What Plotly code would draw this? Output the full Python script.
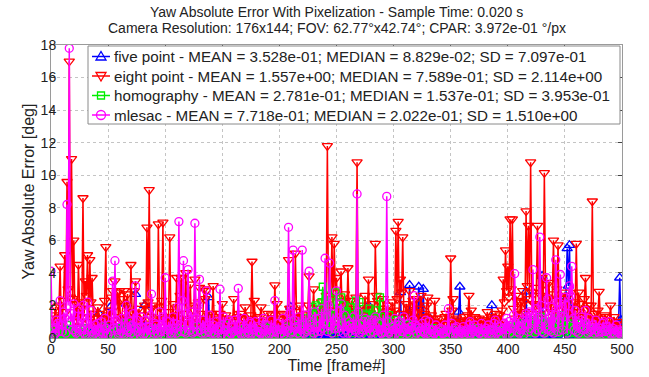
import plotly.graph_objects as go

frames = list(range(0, 501))

five_point = [
    0.1,0.04, 0.05,0.12, 0.2,0.06, 0.08,0.15, 0.1,0.05, 0.06,0.3, 0.3,0.08, 0.1,0.2, 0.5,0.1, 0.08,0.06,
    0.06,0.12, 0.1,0.05, 0.08,0.2, 0.05,0.07, 0.2,0.1, 0.07,0.04, 0.1,0.15, 0.06,0.3, 0.4,0.08, 0.08,0.1,
    0.1,0.6, 1.5,0.2, 0.08,0.1, 0.2,0.5, 0.06,0.08, 0.1,0.7, 1.9,0.3, 0.05,0.1, 0.3,0.06, 0.1,0.9,
    0.08,0.4, 0.1,0.2, 0.4,1.1, 2.1,0.5, 0.06,0.1, 0.2,0.8, 0.1,0.4, 2.7,1.0, 0.08,0.2, 0.3,0.1,
    0.1,0.6, 2.0,0.4, 0.06,0.1, 0.5,0.2, 0.08,0.05, 0.1,0.3, 0.05,0.08, 0.2,0.1, 0.07,0.05, 0.1,0.2,
    0.06,0.1, 0.1,0.05, 0.3,0.5, 1.2,0.2, 0.08,0.1, 0.05,0.06, 0.1,0.2, 0.4,0.08, 0.06,0.1, 0.1,0.05,
    0.07,0.1, 0.2,0.06, 0.05,0.3, 0.1,0.08, 0.8,0.2, 0.06,0.1, 0.1,0.05, 0.3,0.7, 0.08,1.2, 2.5,0.3,
    0.1,0.06, 0.06,0.2, 0.4,0.1, 0.08,0.05, 0.1,0.3, 0.05,0.08, 0.9,0.2, 0.07,0.1, 0.1,0.05, 0.06,0.1,
    0.1,0.05, 0.3,0.1, 0.06,0.08, 0.08,0.2, 0.1,0.06, 0.05,0.1, 0.6,0.1, 0.07,0.05, 0.1,0.3, 0.08,0.1,
    0.06,0.1, 0.1,0.05, 0.2,0.08, 0.05,0.1, 0.08,0.4, 0.1,0.06, 0.5,0.1, 0.06,0.08, 0.1,0.2, 0.07,0.05,
    0.1,0.06, 0.06,0.1, 0.3,0.05, 0.08,0.2, 0.1,0.7, 1.9,0.3, 0.05,0.1, 0.2,0.06, 0.07,0.1, 0.1,0.05,
    0.06,0.1, 0.1,0.3, 0.8,0.1, 0.05,0.08, 0.1,0.05, 0.08,0.2, 0.3,0.1, 0.06,0.4, 0.1,0.6, 1.2,0.2,
    0.07,0.1, 0.2,0.05, 0.1,0.3, 0.05,0.08, 0.6,0.1, 0.08,0.2, 0.1,0.06, 0.06,0.5, 1.4,0.3, 0.1,0.08,
    0.08,0.1, 0.1,0.05, 0.05,0.2, 0.3,0.1, 0.07,0.06, 0.1,0.4, 0.06,0.1, 0.2,0.7, 0.1,0.9, 2.0,0.6,
    0.06,0.3, 0.1,0.05, 0.4,0.1, 0.05,0.08, 0.1,0.3, 0.08,0.5, 1.3,0.2, 0.06,0.1, 0.1,0.05, 0.07,0.2,
    0.1,0.3, 0.5,0.9, 0.08,1.5, 2.8,0.6, 0.06,0.2, 0.1,0.4, 0.2,1.1, 3.25,0.8, 0.08,0.3, 0.1,0.7,
    0.3,1.2, 3.15,0.5, 0.06,0.9, 3.0,0.4, 0.1,0.2, 0.08,0.5, 1.2,0.3, 0.05,0.1, 0.1,0.2, 0.4,0.1,
    0.08,0.1, 0.1,0.05, 0.06,0.2, 0.2,0.1, 0.1,0.05, 0.05,0.3, 0.7,0.2, 0.08,0.4, 1.0,1.6, 3.15,0.5,
    0.1,0.06, 0.06,0.1, 0.3,0.05, 0.08,0.2, 0.1,0.06, 0.05,0.1, 0.2,0.05, 0.07,0.1, 0.1,0.3, 0.06,0.1,
    0.1,0.05, 0.08,0.2, 0.3,0.8, 2.0,0.4, 0.06,0.1, 0.1,0.05, 0.05,0.2, 0.2,0.1, 0.08,0.3, 0.1,0.06,
    0.06,0.1, 0.1,0.3, 0.5,0.1, 0.08,0.05, 0.1,0.2, 0.05,0.1, 0.3,0.6, 0.1,1.2, 2.85,0.5, 0.08,0.2,
    0.1,0.3, 0.06,0.1, 0.4,0.2, 0.1,0.6, 0.08,1.5, 3.8,0.7, 0.1,0.2, 0.06,0.1, 0.2,0.4, 0.1,0.8,
    0.08,0.2, 0.1,0.05, 0.05,0.3, 0.3,0.1, 0.1,0.8, 0.06,2.4, 5.5,3.2, 5.7,1.8, 0.1,0.4, 0.08,0.2,
    0.1,0.05, 0.06,0.1, 0.2,0.08, 0.08,0.3, 0.1,0.05, 0.05,0.1, 0.4,0.2, 0.07,0.1, 0.1,0.05, 0.06,0.1,
    0.1,0.2, 0.08,0.05, 0.3,0.1, 0.05,0.08, 0.1,0.2, 0.06,0.1, 0.2,0.05, 0.08,0.1, 0.1,0.9, 3.7,1.1,
    0.1,
]

eight_point = [
    1.2,0.5, 0.8,1.4, 1.9,0.9, 0.7,2.0, 4.4,0.8, 1.3,2.3, 5.1,1.6, 9.6,3.0, 17.0,2.5, 11.0,2.4,
    6.0,1.1, 2.1,0.7, 4.5,2.2, 1.0,1.8, 8.6,1.3, 3.5,2.6, 5.1,1.0, 4.8,2.2, 3.7,1.5, 1.2,0.6,
    0.8,1.9, 1.5,0.9, 0.6,1.2, 1.1,2.3, 5.6,0.8, 1.4,1.7, 0.9,2.5, 2.9,1.1, 3.5,2.0, 2.8,1.3,
    2.9,0.7, 1.2,2.4, 2.9,1.1, 2.0,2.7, 1.1,0.9, 4.5,1.6, 1.3,2.9, 3.5,1.0, 0.9,1.8, 1.0,0.6,
    0.7,1.4, 2.0,0.9, 6.8,2.2, 9.1,1.3, 1.8,2.0, 0.8,1.1, 1.2,0.7, 7.0,1.9, 1.0,2.3, 7.1,1.2,
    1.3,0.9, 0.8,1.6, 6.2,1.1, 1.0,2.1, 0.6,1.0, 3.7,1.4, 1.2,2.6, 3.7,0.8, 0.9,1.5, 4.0,1.1,
    1.1,2.0, 3.3,0.8, 1.0,1.7, 3.6,1.2, 0.9,2.2, 3.1,0.9, 1.0,1.5, 3.0,2.4, 2.9,1.1, 1.4,0.7,
    0.9,1.5, 3.2,0.9, 1.3,0.6, 0.7,1.2, 1.5,0.8, 2.1,1.0, 0.8,1.4, 0.6,0.7, 1.2,0.5, 0.8,1.1,
    2.4,0.8, 1.0,0.6, 0.7,1.3, 1.5,0.7, 0.9,1.2, 1.9,0.9, 0.8,0.6, 1.1,1.4, 4.7,1.0, 2.3,0.9,
    1.2,0.6, 0.8,1.3, 1.9,0.8, 1.0,0.5, 0.7,1.1, 1.5,0.7, 0.9,1.4, 1.2,0.9, 3.25,1.2, 2.1,0.8,
    1.0,0.8, 0.7,1.5, 1.4,0.6, 0.9,1.2, 4.8,1.8, 1.1,0.9, 0.8,1.3, 5.2,1.6, 1.3,0.7, 2.0,1.1,
    1.1,1.4, 0.8,0.7, 1.5,2.0, 3.8,1.2, 1.0,1.6, 3.0,0.9, 1.2,1.8, 0.9,1.3, 1.6,2.2, 1.0,1.5,
    2.0,2.6, 11.8,1.9, 1.5,2.4, 6.2,1.7, 5.8,2.8, 3.7,1.4, 1.0,2.2, 4.1,1.6, 1.2,2.7, 2.3,1.3,
    4.3,1.8, 1.0,2.3, 0.8,1.1, 1.6,2.5, 10.8,1.5, 1.2,2.0, 0.9,1.2, 1.4,2.6, 0.8,1.7, 3.6,1.0,
    1.0,2.1, 1.3,1.4, 5.8,2.6, 2.3,1.1, 0.9,1.8, 1.2,2.4, 0.8,1.3, 1.5,2.0, 1.0,1.6, 0.9,2.2,
    1.2,1.7, 6.6,2.4, 7.15,1.5, 3.6,2.8, 6.2,1.3, 1.0,2.1, 1.4,1.9, 2.9,1.4, 0.8,2.3, 1.2,1.6,
    2.4,1.2, 1.0,1.8, 2.6,0.9, 0.8,1.5, 1.3,2.0, 2.5,1.1, 0.7,1.4, 1.0,0.8, 2.3,1.2, 0.9,0.7,
    0.7,0.9, 1.2,0.6, 0.9,1.3, 1.5,0.8, 0.6,1.1, 4.9,1.7, 2.4,0.7, 1.0,1.2, 0.8,0.6, 1.1,0.9,
    0.6,1.0, 1.3,0.7, 0.8,1.4, 2.6,1.1, 1.7,0.8, 0.9,1.3, 1.2,0.6, 0.7,1.2, 1.0,0.7, 0.8,1.1,
    1.1,0.8, 1.6,1.0, 0.7,1.3, 1.2,0.7, 0.9,1.2, 1.5,0.9, 0.8,1.4, 1.0,1.7, 3.6,2.2, 5.4,2.9,
    4.4,2.5, 7.3,3.0, 7.3,1.8, 1.2,2.6, 2.3,1.4, 1.0,2.2, 1.5,2.9, 2.2,1.6, 7.8,3.2, 6.9,2.4,
    10.8,2.8, 1.5,2.1, 2.0,3.1, 6.9,2.0, 1.3,2.6, 3.7,1.8, 10.15,3.3, 2.2,2.5, 3.4,1.9, 1.6,2.7,
    6.0,2.3, 1.2,3.0, 5.7,1.7, 2.4,2.5, 1.0,1.9, 2.8,1.3, 1.4,2.6, 1.0,2.0, 1.6,1.4, 1.2,2.2,
    5.8,1.6, 2.8,2.1, 1.0,1.3, 1.4,2.4, 3.7,1.8, 2.0,1.2, 1.1,2.0, 8.4,1.5, 1.5,1.1, 0.9,1.7,
    2.85,1.2, 1.0,0.8, 0.8,1.4, 1.3,0.9, 0.7,1.1, 2.0,0.7, 0.9,1.3, 0.6,0.8, 1.0,0.6, 0.85,0.5,
    0.5,
]

homography = [
    0.3,0.2, 0.1,0.4, 0.6,0.15, 0.2,0.3, 0.15,0.5, 0.4,0.2, 0.1,0.3, 0.8,0.25, 0.2,0.1, 0.3,0.4,
    0.15,0.3, 0.5,0.1, 0.2,0.35, 0.1,0.2, 0.3,0.6, 0.6,0.2, 0.15,0.1, 0.2,0.4, 0.4,0.15, 0.1,0.3,
    0.2,0.1, 0.3,0.5, 0.1,0.2, 0.7,0.3, 0.15,0.1, 0.2,0.4, 0.4,0.2, 0.1,0.3, 0.3,0.15, 0.2,0.6,
    0.5,0.2, 0.1,0.3, 0.2,0.15, 0.9,0.4, 0.15,0.2, 0.3,0.1, 0.1,0.5, 0.6,0.2, 0.2,0.3, 0.15,0.1,
    0.3,0.15, 0.2,0.4, 0.1,0.2, 0.5,0.3, 0.2,0.1, 0.15,0.6, 0.4,0.2, 0.1,0.3, 0.3,0.15, 0.2,0.4,
    0.1,0.2, 0.4,0.15, 0.2,0.3, 0.15,0.1, 0.6,0.2, 0.1,0.4, 0.3,0.15, 0.2,0.5, 0.15,0.2, 0.5,0.1,
    0.2,0.3, 0.1,0.15, 0.3,0.5, 0.15,0.2, 0.7,0.1, 0.2,0.3, 0.1,0.4, 0.4,0.15, 0.2,0.1, 0.15,0.3,
    0.3,0.1, 0.2,0.4, 0.1,0.2, 0.5,0.15, 0.15,0.3, 0.2,0.1, 0.8,0.2, 0.1,0.5, 0.3,0.15, 0.2,0.1,
    0.15,0.3, 0.4,0.1, 0.2,0.15, 0.1,0.4, 0.3,0.2, 0.6,0.1, 0.15,0.3, 0.2,0.5, 0.1,0.2, 0.5,0.15,
    0.2,0.4, 0.15,0.1, 0.3,0.2, 0.1,0.6, 0.7,0.15, 0.2,0.3, 0.15,0.1, 0.4,0.2, 0.2,0.5, 0.1,0.3,
    0.3,0.5, 0.2,0.1, 0.5,0.3, 0.15,0.7, 0.2,0.4, 1.0,0.3, 0.1,0.6, 0.4,0.2, 0.2,0.8, 0.6,0.3,
    0.3,0.9, 1.2,0.5, 0.2,1.0, 0.8,0.4, 1.5,1.9, 0.3,0.7, 2.0,1.2, 0.4,0.9, 1.3,2.2, 3.15,1.4,
    1.1,0.6, 2.6,1.5, 0.5,1.2, 1.8,0.7, 0.3,2.8, 2.2,1.0, 0.6,1.7, 2.5,0.9, 1.0,2.0, 1.6,0.8,
    0.4,1.3, 1.9,0.6, 0.3,1.0, 1.2,2.3, 0.5,0.8, 2.2,1.1, 0.3,0.7, 0.8,1.4, 1.5,0.5, 0.4,1.8,
    1.0,0.6, 0.3,1.2, 1.7,0.4, 0.5,0.9, 2.5,1.3, 0.4,0.7, 0.9,0.3, 0.2,1.1, 1.4,0.5, 0.3,0.8,
    0.6,0.3, 0.2,0.7, 1.1,0.4, 0.3,0.9, 0.5,0.2, 0.2,0.6, 0.8,0.3, 0.15,0.5, 0.4,0.2, 0.2,0.4,
    0.3,0.2, 0.15,0.4, 0.5,0.1, 0.2,0.3, 0.1,0.5, 0.4,0.2, 0.2,0.1, 0.6,0.3, 0.15,0.2, 0.3,0.1,
    0.2,0.3, 0.1,0.15, 0.4,0.2, 0.15,0.5, 0.3,0.1, 0.2,0.3, 0.5,0.15, 0.1,0.2, 0.2,0.4, 0.3,0.1,
    0.15,0.2, 0.4,0.1, 0.2,0.3, 0.1,0.15, 0.3,0.5, 0.6,0.2, 0.2,0.1, 0.15,0.4, 0.4,0.2, 0.2,0.3,
    0.1,0.2, 0.3,0.15, 0.2,0.4, 0.5,0.1, 0.15,0.3, 0.2,0.5, 0.4,0.2, 0.1,0.3, 0.3,0.6, 0.6,0.4,
    0.2,0.5, 0.4,0.3, 0.7,0.4, 0.2,0.6, 0.5,0.8, 0.3,0.5, 0.9,0.4, 0.2,0.7, 0.6,0.3, 0.4,0.9,
    0.8,0.5, 0.3,1.1, 1.0,0.4, 0.4,0.8, 0.6,1.3, 1.2,0.5, 0.3,0.9, 0.7,0.4, 0.4,1.0, 0.9,0.6,
    0.5,1.2, 1.1,0.4, 0.3,0.9, 0.8,1.4, 0.4,0.6, 1.3,0.8, 0.6,0.3, 0.9,1.1, 0.3,0.5, 0.7,0.4,
    0.4,0.6, 0.2,0.3, 0.6,0.9, 0.3,0.2, 0.8,0.4, 0.2,0.5, 0.4,0.3, 0.5,0.2, 0.2,0.6, 0.3,0.2,
    0.2,0.3, 0.4,0.15, 0.15,0.4, 0.3,0.2, 0.5,0.3, 0.2,0.1, 0.3,0.4, 0.15,0.2, 0.4,0.3, 0.2,0.15,
    0.3,
]

mlesac = [
    4.1,0.6, 0.5,0.2, 0.3,1.1, 0.9,0.4, 2.3,0.8, 0.4,1.6, 1.2,0.3, 8.2,2.0, 17.8,1.0, 1.5,0.5,
    2.1,0.4, 0.3,1.0, 1.8,0.2, 0.5,1.3, 2.0,0.3, 0.2,0.9, 2.2,0.5, 0.6,1.7, 0.4,0.2, 0.3,0.8,
    0.5,0.9, 0.2,0.4, 1.0,0.2, 0.3,1.2, 0.6,0.3, 0.2,0.8, 0.4,1.5, 3.5,0.6, 4.75,1.1, 0.5,0.2,
    0.3,0.7, 1.2,0.3, 0.2,1.4, 2.0,0.5, 0.4,1.0, 0.3,0.8, 1.5,0.2, 3.2,1.1, 0.4,0.6, 0.2,1.3,
    0.6,0.2, 0.3,1.1, 0.2,0.7, 0.5,1.4, 2.7,0.5, 0.3,0.9, 0.8,0.3, 0.2,1.6, 0.4,0.8, 1.3,0.4,
    3.7,0.5, 0.3,1.0, 0.5,0.3, 0.2,1.3, 0.9,0.6, 0.3,1.9, 7.15,0.8, 0.4,2.3, 4.75,0.4, 0.3,1.5,
    4.2,0.9, 0.5,1.6, 0.3,0.4, 7.05,1.2, 0.4,2.0, 3.6,0.5, 0.3,1.1, 0.6,0.3, 2.9,0.8, 0.4,1.4,
    0.3,0.6, 0.8,0.3, 0.2,1.0, 0.5,0.7, 3.0,0.2, 0.3,1.3, 0.4,0.5, 0.2,0.9, 1.1,0.3, 0.3,0.7,
    0.4,1.1, 0.2,0.5, 3.05,0.8, 0.3,0.2, 0.6,1.2, 0.2,0.6, 0.4,0.3, 1.0,0.9, 0.3,0.5, 0.5,1.0,
    0.2,0.7, 0.4,0.3, 0.3,1.0, 1.2,0.5, 0.2,0.8, 0.5,0.2, 0.3,1.1, 0.4,0.6, 2.3,0.4, 0.3,0.9,
    0.5,0.3, 0.3,1.2, 0.2,0.6, 0.4,0.9, 6.8,1.5, 0.3,0.4, 5.4,1.1, 0.6,0.7, 0.3,1.3, 0.2,0.5,
    5.4,0.8, 0.3,1.4, 0.4,0.5, 4.1,1.0, 0.5,0.7, 0.3,1.6, 1.2,0.4, 0.2,1.2, 0.4,1.8, 0.6,0.9,
    4.9,1.3, 0.4,2.0, 4.6,0.8, 0.3,1.5, 0.6,1.1, 2.9,0.6, 0.4,1.7, 2.1,0.9, 0.3,1.4, 0.5,0.7,
    0.3,1.0, 0.8,0.6, 0.2,1.3, 0.5,0.4, 8.85,1.6, 0.3,0.9, 0.4,0.5, 1.0,1.2, 0.2,0.7, 0.6,1.1,
    0.3,0.8, 0.4,1.1, 1.3,0.5, 0.2,0.9, 0.5,0.3, 0.3,1.4, 0.4,0.6, 8.7,1.0, 0.3,0.4, 0.2,0.7,
    0.5,1.2, 0.3,0.6, 0.8,1.0, 0.2,0.4, 0.4,1.3, 0.6,0.5, 0.3,0.9, 0.2,0.7, 0.5,1.1, 2.6,0.8,
    0.3,0.7, 0.6,0.4, 0.2,0.9, 0.4,0.3, 1.1,0.6, 0.3,1.0, 0.2,0.5, 0.5,0.3, 0.3,0.8, 0.4,0.2,
    0.2,0.6, 0.5,0.3, 0.3,0.8, 0.4,0.5, 1.8,0.4, 0.3,0.9, 0.2,0.3, 0.6,0.7, 0.3,0.2, 0.4,0.5,
    0.3,0.7, 0.2,0.4, 0.5,0.3, 0.8,1.0, 0.3,0.5, 0.4,0.8, 0.2,0.4, 0.6,0.3, 0.3,0.9, 0.2,0.5,
    0.4,0.6, 0.3,0.8, 0.5,0.3, 0.2,0.5, 0.9,1.1, 0.3,0.4, 0.4,0.7, 0.2,0.5, 0.6,0.9, 0.3,1.2,
    0.5,1.0, 0.3,0.6, 0.8,1.4, 3.95,0.9, 0.4,1.2, 0.3,0.5, 0.6,1.1, 0.2,0.8, 1.5,1.3, 0.4,1.6,
    0.6,1.5, 4.2,0.9, 0.3,1.8, 0.5,1.2, 6.2,2.0, 0.4,1.0, 0.3,1.6, 3.7,2.4, 0.5,1.3, 0.4,1.9,
    0.3,1.4, 4.8,2.2, 0.4,1.1, 3.9,1.8, 0.5,1.3, 2.5,2.0, 0.3,1.5, 3.2,2.6, 4.4,1.2, 0.5,1.7,
    0.4,1.0, 0.3,0.7, 1.1,1.3, 0.5,0.6, 1.7,0.9, 0.3,1.2, 0.4,0.5, 0.6,0.8, 0.3,1.1, 0.5,0.4,
    0.3,0.6, 0.4,0.9, 1.0,0.4, 0.2,0.7, 0.5,1.0, 0.3,0.5, 0.6,0.3, 0.2,0.8, 0.4,0.5, 0.3,0.4,
    0.2,
]

series_names = [
    "five point - MEAN = 3.528e-01; MEDIAN = 8.829e-02; SD = 7.097e-01",
    "eight point - MEAN = 1.557e+00; MEDIAN = 7.589e-01; SD = 2.114e+00",
    "homography - MEAN = 2.781e-01; MEDIAN = 1.537e-01; SD = 3.953e-01",
    "mlesac - MEAN = 7.718e-01; MEDIAN = 2.022e-01; SD = 1.510e+00",
]
title_lines = [
    "Yaw Absolute Error With Pixelization - Sample Time: 0.020 s",
    "Camera Resolution: 176x144; FOV: 62.77°x42.74°; CPAR: 3.972e-01 °/px",
]
x_ticks = [0, 50, 100, 150, 200, 250, 300, 350, 400, 450, 500]
y_ticks = [0, 2, 4, 6, 8, 10, 12, 14, 16, 18]

styles = [
    ("#0000ff", "triangle-up-open", 9),
    ("#ff0000", "triangle-down-open", 9),
    ("#00ee00", "square-open", 7),
    ("#ff00ff", "circle-open", 8),
]

# plot area in pixels (layout geometry)
PL, PR, PT, PB = 51, 622, 45, 338
W, H = 649, 377


def xp(px):
    return (px - PL) / (PR - PL)


def yp(py):
    return (PB - py) / (PB - PT)


fig = go.Figure()
for name, ys, (col, sym, sz) in zip(series_names, [five_point, eight_point, homography, mlesac], styles):
    fig.add_trace(go.Scatter(
        x=frames, y=ys, name=name, mode="lines+markers", showlegend=False,
        line=dict(color=col, width=1.5),
        marker=dict(symbol=sym, size=sz, color=col, line=dict(color=col, width=1.3)),
    ))

FONT = "Liberation Sans, Arial, sans-serif"
TXT = "#222222"

# legend drawn as box + symbols + text
shapes = [dict(type="rect", xref="paper", yref="paper", layer="above",
               x0=xp(88), x1=xp(620), y0=yp(124), y1=yp(46),
               fillcolor="white", line=dict(color="#8a8a8a", width=1))]
annotations = []
row_y = [56.5, 76.0, 95.5, 115.0]
mx = 101
for (col, sym, sz), ry, name in zip(styles, row_y, series_names):
    shapes.append(dict(type="line", xref="paper", yref="paper", layer="above",
                       x0=xp(92), x1=xp(110), y0=yp(ry), y1=yp(ry),
                       line=dict(color=col, width=1.5)))
    if sym.startswith("triangle-up"):
        pts = [(mx - 5, ry + 3.5), (mx + 5, ry + 3.5), (mx, ry - 5)]
    elif sym.startswith("triangle-down"):
        pts = [(mx - 5, ry - 3.5), (mx + 5, ry - 3.5), (mx, ry + 5)]
    else:
        pts = None
    if pts:
        path = "M " + " L ".join(f"{xp(a):.5f},{yp(b):.5f}" for a, b in pts) + " Z"
        shapes.append(dict(type="path", xref="paper", yref="paper", layer="above",
                           path=path, line=dict(color=col, width=1.3)))
    elif sym.startswith("square"):
        shapes.append(dict(type="rect", xref="paper", yref="paper", layer="above",
                           x0=xp(mx - 3.5), x1=xp(mx + 3.5), y0=yp(ry + 3.5), y1=yp(ry - 3.5),
                           line=dict(color=col, width=1.3)))
    else:
        shapes.append(dict(type="circle", xref="paper", yref="paper", layer="above",
                           x0=xp(mx - 4.5), x1=xp(mx + 4.5), y0=yp(ry + 4.5), y1=yp(ry - 4.5),
                           line=dict(color=col, width=1.3)))
    annotations.append(dict(text=name, xref="paper", yref="paper", x=xp(112), y=yp(ry),
                            xanchor="left", yanchor="middle", showarrow=False,
                            font=dict(family=FONT, size=15.2, color=TXT)))

for line, ty in zip(title_lines, [12.0, 28.5]):
    annotations.append(dict(text=line, xref="paper", yref="paper", x=0.5, y=yp(ty),
                            xanchor="center", yanchor="middle", showarrow=False,
                            font=dict(family=FONT, size=14, color=TXT)))

axis_common = dict(
    showline=True, mirror="ticks", linecolor="#9a9a9a", linewidth=1,
    ticks="inside", ticklen=4, tickcolor="#444",
    showgrid=True, gridcolor="#c4c4c4", griddash="dot", gridwidth=1,
    zeroline=False, automargin=False,
    tickfont=dict(family=FONT, size=14, color=TXT),
)

fig.update_layout(
    width=W, height=H,
    margin=dict(l=PL, r=W - PR, t=PT, b=H - PB),
    paper_bgcolor="white", plot_bgcolor="white",
    font=dict(family=FONT, color=TXT),
    xaxis=dict(axis_common, range=[0, 500], tickvals=x_ticks, ticklabelstandoff=-2,
               title=dict(text="Time [frame#]", font=dict(family=FONT, size=16, color=TXT), standoff=0)),
    yaxis=dict(axis_common, range=[0, 18], tickvals=y_ticks, ticklabelstandoff=-9,
               title=dict(text="Yaw Absolute Error [deg]", font=dict(family=FONT, size=16, color=TXT), standoff=2)),
    shapes=shapes,
    annotations=annotations,
    showlegend=False,
)

fig.write_html("out.html", config={"displayModeBar": False},
               post_script="document.body.style.margin='0px';")
